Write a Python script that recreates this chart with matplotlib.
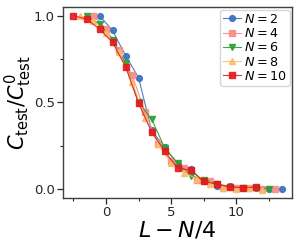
import matplotlib
matplotlib.use("Agg")
import matplotlib.pyplot as plt
from matplotlib.ticker import MultipleLocator

# x = L - N/4, y = C_test / C_test^0
n_values = [2, 4, 6, 8, 10]

x_n2 = [-0.5, 0.5, 1.5, 2.5, 3.5, 4.5, 5.5, 6.5, 7.5, 8.5, 9.5, 10.5, 11.5, 12.5, 13.5]
y_n2 = [1.0, 0.915, 0.77, 0.643, 0.34, 0.242, 0.146, 0.115, 0.045, 0.02, 0.021, 0.01, 0.008, 0.004, 0.0]

x_n4 = [-1, 0, 1, 2, 3, 4, 5, 6, 7, 8, 9, 10, 11, 12, 13]
y_n4 = [1.0, 0.925, 0.80, 0.658, 0.445, 0.26, 0.163, 0.12, 0.055, 0.046, 0.008, 0.006, 0.005, 0.004, 0.0]

x_n6 = [-1.5, -0.5, 0.5, 1.5, 2.5, 3.5, 4.5, 5.5, 6.5, 7.5, 8.5, 9.5, 10.5, 11.5, 12.5]
y_n6 = [1.0, 0.952, 0.86, 0.725, 0.50, 0.405, 0.24, 0.15, 0.078, 0.056, 0.032, 0.015, 0.008, 0.008, 0.004]

x_n8 = [-2, -1, 0, 1, 2, 3, 4, 5, 6, 7, 8, 9, 10, 11, 12]
y_n8 = [1.0, 0.97, 0.90, 0.79, 0.62, 0.41, 0.26, 0.15, 0.096, 0.059, 0.03, 0.01, 0.002, 0.008, -0.004]

x_n10 = [-2.5, -1.5, -0.5, 0.5, 1.5, 2.5, 3.5, 4.5, 5.5, 6.5, 7.5, 8.5, 9.5, 10.5, 11.5]
y_n10 = [1.0, 0.98, 0.923, 0.846, 0.706, 0.495, 0.332, 0.22, 0.121, 0.111, 0.045, 0.03, 0.012, 0.01, 0.012]

series = [
    (x_n2, y_n2, "#3a6fc2", "o"),
    (x_n4, y_n4, "#fb8a86", "s"),
    (x_n6, y_n6, "#2ca02c", "v"),
    (x_n8, y_n8, "#fdbb6a", "^"),
    (x_n10, y_n10, "#e31a1c", "s"),
]

plt.rcParams["axes.edgecolor"] = "#404040"
plt.rcParams["axes.linewidth"] = 1.0
plt.rcParams["xtick.color"] = "#262626"
plt.rcParams["ytick.color"] = "#262626"

fig = plt.figure(figsize=(2.99, 2.49), dpi=100)
ax = fig.add_axes([0.211, 0.205, 0.766, 0.767])

for n, (xs, ys, color, marker) in zip(n_values, series):
    ax.plot(xs, ys, color=color, marker=marker, markersize=4.2, lw=0.8,
            alpha=0.9, label=f"$N={n}$")

ax.set_ylim(-0.05, 1.05)
ax.xaxis.set_major_locator(MultipleLocator(5))
ax.xaxis.set_minor_locator(MultipleLocator(2.5))
ax.yaxis.set_major_locator(MultipleLocator(0.5))
ax.yaxis.set_minor_locator(MultipleLocator(0.25))
ax.tick_params(which="major", length=4, width=0.9, labelsize=9.5, pad=2)
ax.tick_params(which="minor", length=2.5, width=0.8)
ax.xaxis.set_minor_formatter(plt.NullFormatter())

ax.set_xlabel("$L-N/4$", fontsize=16, labelpad=0)
ax.set_ylabel(r"$C_{\rm test}/C^0_{\rm test}$", fontsize=15, labelpad=0)

leg = ax.legend(loc="upper right", fontsize=9.2, handlelength=1.4,
                handletextpad=0.2, borderpad=0.25, labelspacing=0.1,
                borderaxespad=0.2, framealpha=0.8)

plt.savefig("out.png", dpi=100)
